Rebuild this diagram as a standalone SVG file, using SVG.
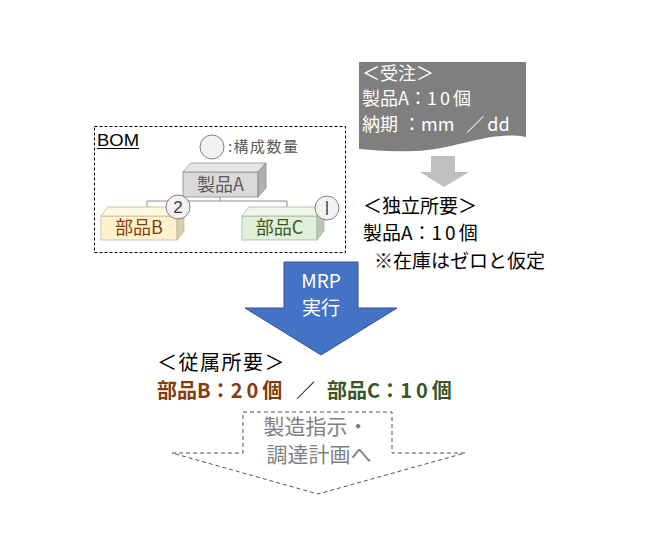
<svg xmlns="http://www.w3.org/2000/svg" width="651" height="546" viewBox="0 0 651 546">
<style>
text{font-family:"Noto Sans CJK JP","Noto Sans",sans-serif;}
.edge{fill:none;stroke:#8c8c8c;stroke-width:1;}
.num{fill:#f2f2f2;stroke:#7f7f7f;stroke-width:1;}
.blk{fill:#000;font-size:19px;}
.dg{letter-spacing:3px;}
.dg4{letter-spacing:4px;}
</style>
<rect width="651" height="546" fill="#fff"/>

<g id="bom-frame">
<rect x="94.5" y="126.5" width="251" height="126" fill="none" stroke="#000" stroke-width="1" stroke-dasharray="3,2"/>
<text x="97" y="146" font-size="17" fill="#000" style="font-family:'Liberation Sans',Arial,sans-serif" textLength="42" lengthAdjust="spacingAndGlyphs">BOM</text>
<line x1="97" y1="148.5" x2="139" y2="148.5" stroke="#000" stroke-width="1.2"/>
</g>

<g id="legend">
<circle cx="212" cy="147" r="12" class="num"/>
<text x="228" y="152" font-size="15" fill="#595959" textLength="70" lengthAdjust="spacing">:構成数量</text>
</g>

<g id="connectors">
<path class="edge" d="M220,197 V201 M147,207 V201 H287 V207"/>
</g>

<g id="productA">
<rect x="183" y="172" width="75" height="25" fill="#d9d9d9" stroke="#8c8c8c" stroke-width="0.8"/>
<polygon points="183,172 191,163 266,163 258,172" fill="#e6e6e6" stroke="#8c8c8c" stroke-width="0.8"/>
<polygon points="258,172 266,163 266,188 258,197" fill="#b0b0b0" stroke="#8c8c8c" stroke-width="0.8"/>
<text x="220.5" y="190.5" font-size="18" fill="#595959" text-anchor="middle">製品A</text>
</g>

<g id="partB">
<rect x="101" y="216" width="76" height="24" fill="#fff2cc" stroke="#bfb79f" stroke-width="0.8"/>
<polygon points="101,216 108,207 184,207 177,216" fill="#fff7e0" stroke="#bfb79f" stroke-width="0.8"/>
<polygon points="177,216 184,207 184,231 177,240" fill="#d9cdaa" stroke="#bfb79f" stroke-width="0.8"/>
<text x="139" y="234" font-size="18" fill="#843c0c" text-anchor="middle">部品B</text>
<circle cx="178" cy="207" r="12" class="num"/>
<text x="178" y="213" font-size="17" fill="#404040" text-anchor="middle" style="font-family:'Liberation Sans',Arial,sans-serif">2</text>
</g>

<g id="partC">
<rect x="242" y="216" width="75" height="24" fill="#e2f0d9" stroke="#a9b3a3" stroke-width="0.8"/>
<polygon points="242,216 249,207 324,207 317,216" fill="#edf6e8" stroke="#a9b3a3" stroke-width="0.8"/>
<polygon points="317,216 324,207 324,231 317,240" fill="#b9c6b1" stroke="#a9b3a3" stroke-width="0.8"/>
<text x="279.5" y="234" font-size="18" fill="#385723" text-anchor="middle">部品C</text>
<circle cx="327" cy="208" r="12" class="num"/>
<line x1="327" y1="201" x2="327" y2="215" stroke="#404040" stroke-width="1.5"/>
</g>

<g id="order">
<path d="M359,62 H526 V137 C490,130 455,150 415,151 C390,152 372,150 359,149 Z" fill="#7f7f7f"/>
<text x="362" y="80" font-size="18" fill="#fff">＜受注＞</text>
<text x="362" y="105" font-size="18" fill="#fff">製品A：<tspan class="dg">10</tspan>個</text>
<text x="362" y="131" font-size="18" fill="#fff">納期<tspan dx="5">：mm</tspan><tspan dx="12">／</tspan><tspan dx="3">dd</tspan></text>
</g>

<g id="gray-arrow">
<polygon points="431,156 455,156 455,172 469,172 444,187 420,172 431,172" fill="#bfbfbf"/>
</g>

<g id="independent">
<text x="363" y="213" class="blk">＜独立所要＞</text>
<text x="363" y="240" class="blk">製品A：<tspan class="dg">10</tspan>個</text>
<text x="374" y="268" class="blk">※在庫はゼロと仮定</text>
</g>

<g id="mrp-arrow">
<polygon points="284,262 358,262 358,308 397,308 321,355 245,308 284,308" fill="#4472c4" stroke="#2f528f" stroke-width="1"/>
<text x="321" y="288" font-size="19" fill="#fff" text-anchor="middle">MRP</text>
<text x="321" y="315" font-size="19" fill="#fff" text-anchor="middle">実行</text>
</g>

<g id="dependent">
<text x="157" y="370" font-size="20" fill="#000" letter-spacing="1.5">＜従属所要＞</text>
<text x="157" y="398" font-size="20" font-weight="bold" fill="#843c0c">部品B：<tspan class="dg4">20</tspan>個</text>
<text x="296" y="398" font-size="19" fill="#000">／</text>
<text x="327" y="398" font-size="20" font-weight="bold" fill="#385723">部品C：<tspan class="dg4">10</tspan>個</text>
</g>

<g id="next-step">
<path d="M172,453 H243 V412 H392 V453 H465 L318,494 Z" fill="none" stroke="#44546a" stroke-width="1" stroke-dasharray="4,3"/>
<text x="316" y="434" font-size="21" fill="#7f7f7f" text-anchor="middle">製造指示・</text>
<text x="319" y="462" font-size="21" fill="#7f7f7f" text-anchor="middle">調達計画へ</text>
</g>
</svg>
